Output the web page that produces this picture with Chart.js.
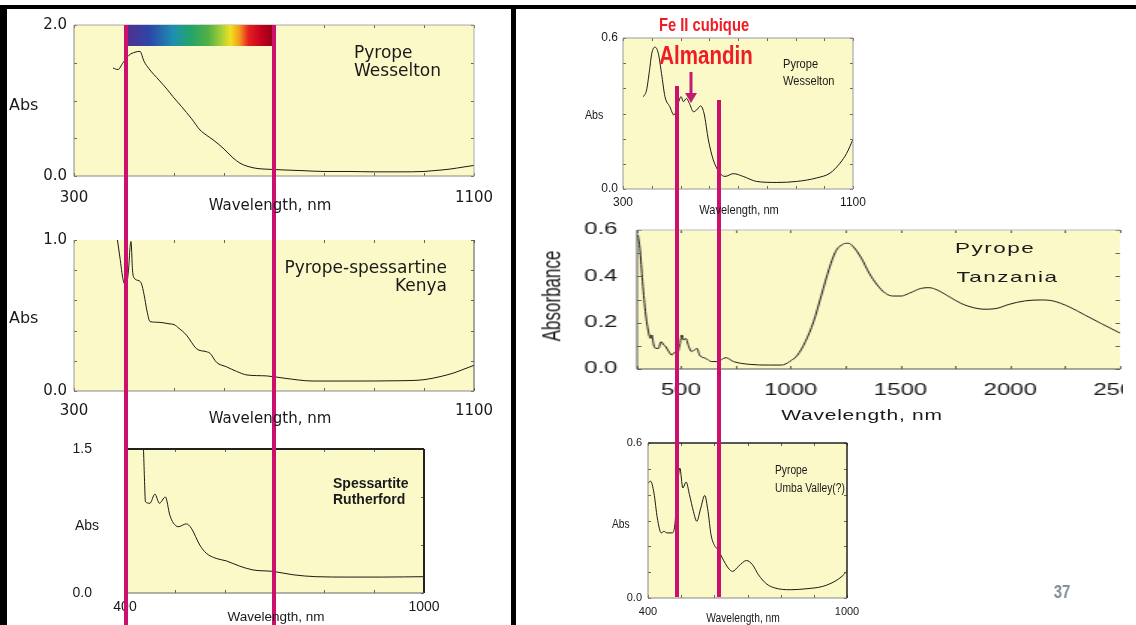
<!DOCTYPE html>
<html>
<head>
<meta charset="utf-8">
<script src="https://cdn.jsdelivr.net/npm/chart.js@4/dist/chart.umd.min.js"></script>
<style>
  body { margin: 0; background: #fff; }
  #page { position: relative; width: 1136px; height: 625px; overflow: hidden; background: #fff; }
  canvas { position: absolute; }
  .blk { position: absolute; background: #000; }
  .mag { position: absolute; background: #cc106e; z-index: 5; }
  .t { position: absolute; white-space: nowrap; line-height: 1; color: #1a1a1a; z-index: 6; }
  .dv { font-family: "DejaVu Sans", sans-serif; }
  .ls { font-family: "Liberation Sans", Arial, sans-serif; }
  /* no narrow face installed, so squeeze Liberation Sans */
  .nw { font-family: "Liberation Sans", Arial, sans-serif; transform: scaleX(0.82); transform-origin: 0 0; }
  .nw.c { transform: translateX(-50%) scaleX(0.82); transform-origin: 50% 50%; }
  #c5box { position: absolute; left: 517px; top: 215px; width: 404px; height: 215px; overflow: hidden; transform: scaleX(1.5); transform-origin: 0 0; }
  #spectrum { position: absolute; left: 124px; top: 25px; width: 150px; height: 21px; z-index: 4;
    background: linear-gradient(to right, #50308f 3%, #2b47a8 17%, #1f8fb0 33%, #22a36a 44%, #4fb043 56%, #9ccc3c 64%, #f1e01f 71%, #f39a1d 77%, #e5201f 83%, #c3001e 92%, #9b0018 98%); }
</style>
</head>
<body>
<div id="page">
  <canvas id="c1"></canvas>
  <canvas id="c2"></canvas>
  <canvas id="c3"></canvas>
  <canvas id="c4"></canvas>
  <canvas id="c6"></canvas>
  <div id="c5box">
    <canvas id="c5"></canvas>
    <div class="t ls" style="left:292px;top:25px;font-size:15px;letter-spacing:1px">Pyrope</div>
    <div class="t ls" style="left:293px;top:54px;font-size:15px;letter-spacing:1px">Tanzania</div>
    <div class="t ls" style="left:23px;top:81px;font-size:17px;transform:translate(-50%,-50%) rotate(-90deg)">Absorbance</div>
    <div class="t ls" style="left:230px;top:193px;font-size:14px;letter-spacing:0.5px;transform:translateX(-50%)">Wavelength, nm</div>
  </div>

  <div class="blk" style="left:0;top:5px;width:1136px;height:4px"></div>
  <div class="blk" style="left:0;top:5px;width:7px;height:620px"></div>
  <div class="blk" style="left:511px;top:5px;width:5px;height:620px"></div>

  <div id="spectrum"></div>
  <div class="mag" style="left:124px;top:25px;width:4px;height:600px"></div>
  <div class="mag" style="left:272px;top:25px;width:4px;height:600px"></div>
  <div class="mag" style="left:675px;top:86px;width:4px;height:511px"></div>
  <div class="mag" style="left:717px;top:100px;width:4px;height:497px"></div>
  <svg style="position:absolute;left:683px;top:72px;z-index:6" width="16" height="33">
    <line x1="8" y1="0" x2="8" y2="24" stroke="#c41a72" stroke-width="3"/>
    <polygon points="2,21 14,21 8,31" fill="#c41a72"/>
  </svg>

  <!-- chart 1 -->
  <div class="t dv" style="left:354px;top:43px;font-size:17px;line-height:18px">Pyrope<br>Wesselton</div>
  <div class="t dv" style="left:9px;top:97px;font-size:16px">Abs</div>
  <div class="t dv" style="left:270px;top:198px;font-size:15px;transform:translateX(-50%)">Wavelength, nm</div>
  <!-- chart 2 -->
  <div class="t dv" style="right:689px;top:258px;font-size:17px;line-height:18px;text-align:right">Pyrope-spessartine<br>Kenya</div>
  <div class="t dv" style="left:9px;top:310px;font-size:16px">Abs</div>
  <div class="t dv" style="left:270px;top:411px;font-size:15px;transform:translateX(-50%)">Wavelength, nm</div>
  <!-- chart 3 -->
  <div class="t ls" style="left:333px;top:475px;font-size:14px;line-height:16px;font-weight:bold">Spessartite<br>Rutherford</div>
  <div class="t ls" style="left:75px;top:518px;font-size:14px">Abs</div>
  <div class="t ls" style="left:276px;top:610px;font-size:13.5px;transform:translateX(-50%)">Wavelength, nm</div>
  <!-- chart 4 -->
  <div class="t nw c" style="left:704px;top:16px;font-size:18px;font-weight:bold;color:#f01c24">Fe II cubique</div>
  <div class="t nw c" style="left:706px;top:43px;font-size:25px;font-weight:bold;color:#f01c24">Almandin</div>
  <div class="t nw" style="left:783px;top:55px;font-size:13.5px;line-height:17px">Pyrope<br>Wesselton</div>
  <div class="t nw" style="left:585px;top:108px;font-size:13px">Abs</div>
  <div class="t nw c" style="left:739px;top:203px;font-size:13.5px">Wavelength, nm</div>
  <!-- chart 6 -->
  <div class="t nw" style="left:775px;top:461px;font-size:12.5px;line-height:18px">Pyrope<br>Umba Valley(?)</div>
  <div class="t nw" style="left:612px;top:518px;font-size:12.5px">Abs</div>
  <div class="t nw c" style="left:743px;top:612px;font-size:12.5px">Wavelength, nm</div>
  <div class="t nw c" style="left:1062px;top:583px;font-size:18px;font-weight:bold;color:#8a8f96">37</div>
</div>

<script>
// Pyrope Wesselton, visible range (top left)
const wesseltonNm = [378, 388, 398, 410, 422, 432, 440, 450, 470, 486, 498, 515, 535, 552, 565, 578, 598, 618, 632, 646, 666, 686, 720, 760, 800, 850, 900, 950, 1000, 1018, 1050, 1080, 1100];
const wesseltonAbs = [1.43, 1.41, 1.5, 1.6, 1.64, 1.65, 1.52, 1.42, 1.27, 1.15, 1.05, 0.92, 0.76, 0.61, 0.54, 0.48, 0.37, 0.24, 0.17, 0.13, 0.1, 0.09, 0.08, 0.07, 0.06, 0.06, 0.055, 0.055, 0.06, 0.07, 0.09, 0.12, 0.14];

// Pyrope-spessartine Kenya
const kenyaNm = [386, 392, 398, 404, 409, 412, 414, 417, 420, 430, 435, 440, 446, 452, 470, 490, 500, 510, 525, 545, 565, 572, 585, 605, 625, 646, 685, 720, 778, 850, 952, 1000, 1032, 1060, 1080, 1100];
const kenyaAbs = [1.02, 0.88, 0.74, 0.7, 0.8, 0.95, 0.99, 0.8, 0.75, 0.73, 0.71, 0.64, 0.53, 0.46, 0.455, 0.445, 0.44, 0.415, 0.37, 0.28, 0.26, 0.25, 0.19, 0.16, 0.13, 0.106, 0.1, 0.085, 0.066, 0.066, 0.068, 0.075, 0.095, 0.12, 0.145, 0.17];

// Spessartite Rutherford
const rutherfordNm = [436, 437, 439, 441, 450, 460, 469, 481, 490, 497, 507, 523, 533, 550, 563, 583, 603, 630, 657, 697, 737, 783, 850, 917, 1000];
const rutherfordAbs = [1.55, 1.5, 1.2, 0.95, 0.935, 1.03, 0.935, 1.0, 0.81, 0.73, 0.69, 0.72, 0.675, 0.5, 0.415, 0.36, 0.335, 0.28, 0.24, 0.225, 0.19, 0.17, 0.166, 0.166, 0.17];

// Pyrope Wesselton, small chart (top right)
const almandinNm = [371, 382, 392, 400, 411, 423, 434, 446, 463, 477, 492, 502, 510, 521, 531, 545, 556, 570, 582, 597, 614, 637, 655, 684, 718, 765, 835, 904, 974, 1020, 1055, 1078, 1099];
const almandinAbs = [0.367, 0.393, 0.47, 0.538, 0.564, 0.538, 0.459, 0.367, 0.327, 0.294, 0.34, 0.367, 0.347, 0.36, 0.34, 0.307, 0.314, 0.33, 0.3, 0.195, 0.116, 0.063, 0.05, 0.061, 0.05, 0.03, 0.026, 0.03, 0.044, 0.063, 0.103, 0.142, 0.195];

// Pyrope Tanzania, 300-2500 nm
const tanzaniaNm = [304, 313, 325, 340, 355, 362, 367, 376, 385, 398, 409, 422, 431, 445, 458, 471, 485, 495, 504, 513, 522, 536, 549, 562, 573, 585, 613, 640, 667, 704, 740, 813, 904, 958, 995, 1031, 1067, 1104, 1140, 1176, 1204, 1231, 1262, 1285, 1322, 1358, 1394, 1431, 1467, 1504, 1540, 1594, 1631, 1667, 1722, 1776, 1831, 1885, 1940, 1994, 2067, 2140, 2194, 2267, 2340, 2413, 2500];
const tanzaniaAbs = [0.578, 0.52, 0.377, 0.233, 0.147, 0.132, 0.147, 0.104, 0.089, 0.089, 0.118, 0.104, 0.096, 0.075, 0.06, 0.072, 0.072, 0.104, 0.147, 0.125, 0.132, 0.096, 0.075, 0.082, 0.089, 0.06, 0.046, 0.032, 0.032, 0.049, 0.032, 0.02, 0.017, 0.017, 0.032, 0.06, 0.118, 0.204, 0.319, 0.435, 0.506, 0.535, 0.543, 0.528, 0.478, 0.413, 0.363, 0.327, 0.315, 0.315, 0.327, 0.348, 0.351, 0.341, 0.312, 0.283, 0.265, 0.258, 0.262, 0.279, 0.294, 0.298, 0.294, 0.269, 0.233, 0.197, 0.155];

// Pyrope Umba Valley(?)
const umbaNm = [400, 408, 418, 428, 440, 448, 457, 473, 481, 488, 496, 505, 515, 525, 537, 547, 559, 571, 581, 590, 602, 612, 624, 642, 655, 673, 697, 715, 733, 758, 782, 830, 879, 927, 964, 985, 1000];
const umbaAbs = [0.445, 0.452, 0.406, 0.31, 0.252, 0.258, 0.252, 0.252, 0.284, 0.413, 0.503, 0.426, 0.449, 0.4, 0.335, 0.297, 0.348, 0.397, 0.335, 0.245, 0.2, 0.187, 0.155, 0.116, 0.103, 0.123, 0.145, 0.129, 0.09, 0.054, 0.039, 0.032, 0.036, 0.045, 0.065, 0.084, 0.103];

// ticks (all) and the ones that get a label
const visXTicks = [300, 400, 500, 600, 700, 800, 900, 1000, 1100];
const visXLabels = [300, 1100];
const shortXTicks = [400, 500, 600, 700, 800, 900, 1000];
const shortXLabels = [400, 1000];
const tanzaniaXTicks = [300, 500, 750, 1000, 1250, 1500, 1750, 2000, 2250, 2500];
const tanzaniaXLabels = [500, 1000, 1500, 2000, 2500];
const wesseltonYTicks = [0, 0.5, 1, 1.5, 2];
const kenyaYTicks = [0, 0.2, 0.4, 0.6, 0.8, 1];
const rutherfordYTicks = [0, 0.5, 1, 1.5];
const smallYTicks = [0, 0.1, 0.2, 0.3, 0.4, 0.5, 0.6];
const tanzaniaYLabels = [0, 0.2, 0.4, 0.6];

const PLOT_BG = "#fbf9c7";

// yellow plot background, frame and inward tick marks
const framePlugin = {
  id: "frame",
  beforeDatasetsDraw(chart, args, opts) {
    const a = chart.chartArea;
    const ctx = chart.ctx;
    ctx.save();
    ctx.fillStyle = PLOT_BG;
    ctx.fillRect(a.left, a.top, a.right - a.left, a.bottom - a.top);
    ctx.restore();
  },
  afterDatasetsDraw(chart, args, opts) {
    const a = chart.chartArea;
    const ctx = chart.ctx;
    const xs = chart.scales.x;
    const ys = chart.scales.y;
    const len = 3;
    ctx.save();
    ctx.strokeStyle = "#666";
    ctx.lineWidth = 1;
    ctx.beginPath();
    xs.ticks.forEach(t => {
      const px = Math.round(xs.getPixelForValue(t.value)) + 0.5;
      ctx.moveTo(px, a.bottom); ctx.lineTo(px, a.bottom - len);
      ctx.moveTo(px, a.top); ctx.lineTo(px, a.top + len);
    });
    ys.ticks.forEach(t => {
      const py = Math.round(ys.getPixelForValue(t.value)) + 0.5;
      ctx.moveTo(a.left, py); ctx.lineTo(a.left + len, py);
      ctx.moveTo(a.right, py); ctx.lineTo(a.right - len, py);
    });
    ctx.stroke();
    const sides = {
      top: [a.left, a.top, a.right, a.top],
      right: [a.right, a.top, a.right, a.bottom],
      bottom: [a.left, a.bottom, a.right, a.bottom],
      left: [a.left, a.top, a.left, a.bottom]
    };
    Object.keys(sides).forEach(k => {
      const s = opts[k];
      if (!s) return;
      const p = sides[k];
      ctx.strokeStyle = s[0];
      ctx.lineWidth = s[1];
      ctx.beginPath();
      ctx.moveTo(p[0], p[1]);
      ctx.lineTo(p[2], p[3]);
      ctx.stroke();
    });
    ctx.restore();
  }
};

// invisible tick marks set the gap between axis and labels
// (ticks.padding would also push the plot area around)
function gap(len) {
  return { display: true, drawOnChartArea: false, drawTicks: true, tickLength: len, color: "rgba(0,0,0,0)" };
}

function makeChart(id, nm, abs, o) {
  const cv = document.getElementById(id);
  cv.width = o.padL + o.W + o.padR;
  cv.height = o.padT + o.H + o.padB;
  cv.style.left = (o.L - o.padL) + "px";
  cv.style.top = (o.T - o.padT) + "px";
  const font = { family: o.family, size: o.size };
  return new Chart(cv, {
    type: "line",
    data: {
      datasets: [{
        data: nm.map((x, i) => ({ x: x, y: abs[i] })),
        borderColor: "#1a1a1a",
        borderWidth: 1,
        pointRadius: 0,
        cubicInterpolationMode: "monotone"
      }]
    },
    options: {
      responsive: false,
      animation: false,
      devicePixelRatio: 1,
      layout: { padding: { top: o.padT, right: o.padR, left: 0, bottom: 0 } },
      plugins: { legend: { display: false }, tooltip: { enabled: false }, frame: o.frame },
      scales: {
        x: {
          type: "linear", min: o.xMin, max: o.xMax,
          grid: gap(o.xGap), border: { display: false },
          afterBuildTicks: s => { s.ticks = o.xTicks.map(v => ({ value: v })); },
          afterFit: s => { s.height = o.padB; },
          ticks: {
            autoSkip: false, maxRotation: 0, padding: 0, color: "#1a1a1a", font: font,
            callback: v => o.xLabels.includes(v) ? String(v) : ""
          }
        },
        y: {
          type: "linear", min: o.yMin, max: o.yMax,
          grid: gap(o.yGap), border: { display: false },
          afterBuildTicks: s => { s.ticks = o.yTicks.map(v => ({ value: v })); },
          afterFit: s => { s.width = o.padL; },
          ticks: {
            autoSkip: false, padding: 0, color: "#1a1a1a", font: font,
            callback: v => o.yLabels.includes(v) ? v.toFixed(1) : ""
          }
        }
      }
    },
    plugins: [framePlugin]
  });
}

const dejavu = "'DejaVu Sans', sans-serif";
const arial = "'Liberation Sans', Arial, sans-serif";

makeChart("c1", wesseltonNm, wesseltonAbs, {
  L: 74, T: 25, W: 400, H: 151, padL: 50, padT: 10, padR: 30, padB: 30,
  xMin: 300, xMax: 1100, xTicks: visXTicks, xLabels: visXLabels,
  yMin: 0, yMax: 2, yTicks: wesseltonYTicks, yLabels: [0, 2],
  xGap: 13, yGap: 7, family: dejavu, size: 15,
  frame: { top: ["#aaa", 1], right: ["#aaa", 1], bottom: ["#888", 1], left: ["#888", 1] }
});

makeChart("c2", kenyaNm, kenyaAbs, {
  L: 74, T: 240, W: 400, H: 151, padL: 50, padT: 10, padR: 30, padB: 30,
  xMin: 300, xMax: 1100, xTicks: visXTicks, xLabels: visXLabels,
  yMin: 0, yMax: 1, yTicks: kenyaYTicks, yLabels: [0, 1],
  xGap: 11, yGap: 7, family: dejavu, size: 15,
  frame: { top: null, right: ["#555", 1], bottom: ["#888", 1], left: ["#999", 1] }
});

makeChart("c3", rutherfordNm, rutherfordAbs, {
  L: 125, T: 449, W: 299, H: 144, padL: 60, padT: 10, padR: 30, padB: 30,
  xMin: 400, xMax: 1000, xTicks: shortXTicks, xLabels: shortXLabels,
  yMin: 0, yMax: 1.5, yTicks: rutherfordYTicks, yLabels: [0, 1.5],
  xGap: 6, yGap: 33, family: arial, size: 14,
  frame: { top: ["#222", 2], right: ["#222", 2], bottom: ["#666", 1], left: null }
});

makeChart("c4", almandinNm, almandinAbs, {
  L: 623, T: 38, W: 230, H: 151, padL: 45, padT: 10, padR: 25, padB: 25,
  xMin: 300, xMax: 1100, xTicks: visXTicks, xLabels: visXLabels,
  yMin: 0, yMax: 0.6, yTicks: smallYTicks, yLabels: [0, 0.6],
  xGap: 6, yGap: 5, family: arial, size: 12,
  frame: { top: ["#999", 1], right: ["#999", 1], bottom: ["#999", 1], left: ["#999", 1] }
});

// this one sits in a box stretched 1.5x sideways, like the slide
makeChart("c5", tanzaniaNm, tanzaniaAbs, {
  L: 80, T: 15, W: 322, H: 139, padL: 80, padT: 15, padR: 38, padB: 40,
  xMin: 300, xMax: 2500, xTicks: tanzaniaXTicks, xLabels: tanzaniaXLabels,
  yMin: 0, yMax: 0.6, yTicks: smallYTicks, yLabels: tanzaniaYLabels,
  xGap: 12, yGap: 13, family: arial, size: 16,
  frame: { top: ["#bbb", 1], right: null, bottom: ["#555", 1], left: ["#555", 1] }
});

makeChart("c6", umbaNm, umbaAbs, {
  L: 648, T: 443, W: 199, H: 155, padL: 40, padT: 10, padR: 25, padB: 25,
  xMin: 400, xMax: 1000, xTicks: shortXTicks, xLabels: shortXLabels,
  yMin: 0, yMax: 0.6, yTicks: smallYTicks, yLabels: [0, 0.6],
  xGap: 7, yGap: 6, family: arial, size: 11,
  frame: { top: ["#222", 1.5], right: ["#222", 1.5], bottom: ["#888", 1], left: ["#888", 1] }
});
</script>
</body>
</html>
